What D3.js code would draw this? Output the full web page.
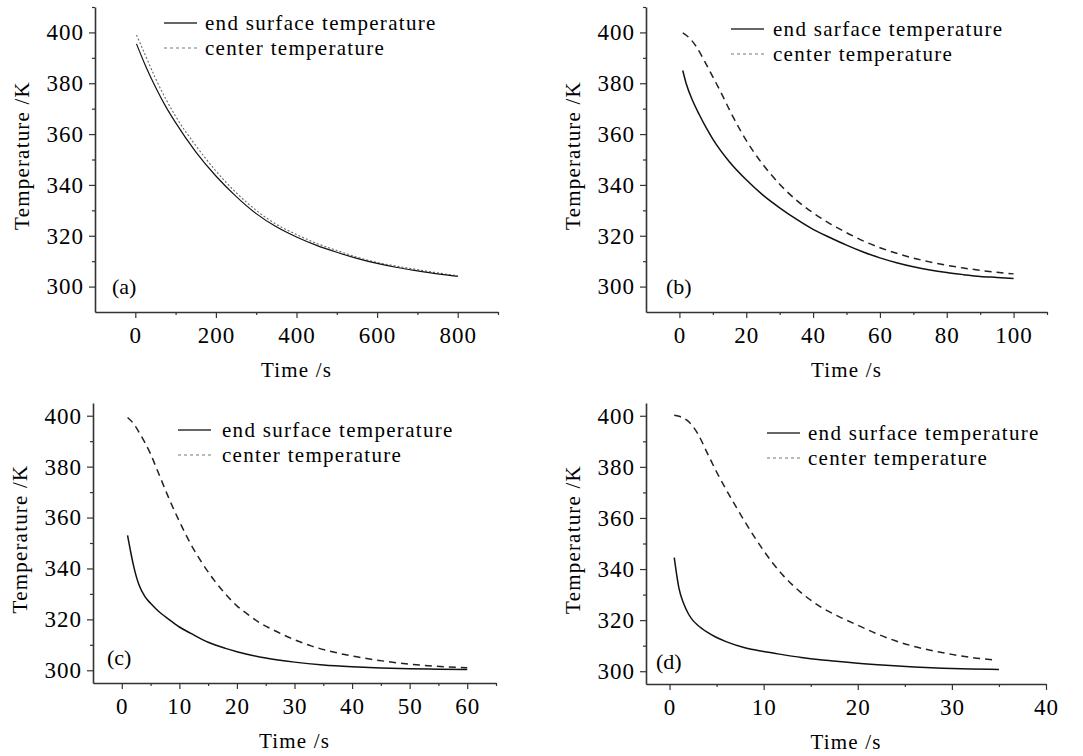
<!DOCTYPE html>
<html>
<head>
<meta charset="utf-8">
<script src="https://cdn.jsdelivr.net/npm/d3@7"></script>
<style>
  body { margin: 0; background: #fff; }
  svg { display: block; }
  text { font-family: "Liberation Serif", "Times New Roman", serif; fill: #000; }
</style>
</head>
<body>
<div id="chart"></div>
<script>
// ---- data ----
const panelNames = ["(a)", "(b)", "(c)", "(d)"];
const surfaceNames = ["end surface temperature", "end sarface temperature", "end surface temperature", "end surface temperature"];
const centerName = "center temperature";

const xDomains = [[-100, 900], [-10, 110], [-5, 65], [-2.5, 40]];
const yDomains = [[290, 410], [290, 410], [295, 405], [295, 405]];
const xMajor = [[0, 200, 400, 600, 800], [0, 20, 40, 60, 80, 100], [0, 10, 20, 30, 40, 50, 60], [0, 10, 20, 30, 40]];
const xMinor = [[100, 300, 500, 700, 900], [10, 30, 50, 70, 90, 110], [5, 15, 25, 35, 45, 55, 65], [5, 15, 25, 35]];
const yMajor = [300, 320, 340, 360, 380, 400];
const yMinor = [[310, 330, 350, 370, 390, 410], [310, 330, 350, 370, 390, 410], [310, 330, 350, 370, 390], [310, 330, 350, 370, 390]];

// (a) 800 s
const timeA = [3, 25, 50, 75, 100, 150, 200, 250, 300, 350, 400, 450, 500, 550, 600, 650, 700, 750, 800];
const surfaceA = [395.5, 387, 378.5, 371, 364.5, 353, 343.5, 335.5, 328.7, 323.5, 319.5, 316.2, 313.5, 311.1, 309.1, 307.5, 306.2, 305, 304];
const centerA = [399, 391, 382, 374, 367, 355.5, 345.5, 337, 330, 324.5, 320.5, 317, 314.2, 311.6, 309.5, 308, 306.7, 305.4, 304.3];

// (b) 100 s
const timeBs = [1, 2, 4, 6, 8, 10, 15, 20, 25, 30, 35, 40, 45, 50, 55, 60, 65, 70, 75, 80, 85, 90, 95, 100];
const surfaceB = [385, 380, 373, 367.5, 362.5, 358, 349, 342, 336, 331, 326.5, 322.5, 319.3, 316.3, 313.6, 311.3, 309.4, 307.8, 306.5, 305.5, 304.7, 304, 303.6, 303.2];
const timeBc = [1, 3, 5, 8, 10, 12, 15, 18, 20, 25, 30, 35, 40, 45, 50, 55, 60, 65, 70, 75, 80, 85, 90, 95, 100];
const centerB = [399.8, 397.8, 394.5, 387.5, 382.5, 377.5, 369.5, 362, 357.5, 348, 340.3, 334, 329, 324.8, 321.2, 318, 315.3, 313.1, 311.2, 309.7, 308.4, 307.3, 306.4, 305.6, 305];

// (c) 60 s
const timeCs = [1, 1.5, 2, 2.5, 3, 4, 5, 6, 7, 8, 10, 12, 15, 18, 20, 25, 30, 35, 40, 45, 50, 55, 60];
const surfaceC = [353, 347, 341.5, 337, 333.5, 329, 326.3, 324, 322, 320.3, 317, 314.5, 311, 308.6, 307.3, 304.8, 303.2, 302.1, 301.4, 300.9, 300.6, 300.4, 300.3];
const timeCc = [1, 2, 3, 4, 5, 6, 7, 8, 10, 12, 14, 16, 18, 20, 22, 24, 26, 28, 30, 33, 36, 40, 44, 48, 52, 56, 60];
const centerC = [399.3, 397, 393.5, 389.5, 385, 379.5, 374, 368.5, 358.5, 349.5, 342, 335.5, 330, 325.3, 321.8, 318.6, 316.2, 314, 312, 309.5, 307.6, 305.6, 304.1, 302.9, 302, 301.4, 301];

// (d) 35 s
const timeDs = [0.5, 0.75, 1, 1.5, 2, 2.5, 3, 4, 5, 6, 8, 10, 12, 14, 16, 18, 20, 23, 26, 29, 32, 35];
const surfaceD = [344.5, 338, 332.5, 326.5, 322.5, 319.8, 318, 315.3, 313.2, 311.6, 309.2, 307.7, 306.5, 305.4, 304.5, 303.8, 303.1, 302.3, 301.7, 301.2, 300.9, 300.7];
const timeDc = [0.5, 1, 2, 2.5, 3, 4, 5, 6, 7, 8, 9, 10, 11, 12, 13, 14, 16, 18, 20, 22, 24, 26, 28, 30, 32, 34.7];
const centerD = [400.2, 399.8, 397.8, 395.8, 393, 385.5, 378, 371.2, 364.8, 358.6, 352.7, 347.2, 342.2, 337.8, 334, 330.7, 325.3, 321.4, 318, 314.7, 311.9, 309.7, 308, 306.6, 305.4, 304.4];

const surfaceTimes = [timeA, timeBs, timeCs, timeDs];
const surfaceTemps = [surfaceA, surfaceB, surfaceC, surfaceD];
const centerTimes = [timeA, timeBc, timeCc, timeDc];
const centerTemps = [centerA, centerB, centerC, centerD];

// ---- layout (pixel boxes of each plot area) ----
const boxes = [
  {left: 95,  top: 7,   right: 498,  bottom: 312, leg: [69, 110, 16, 41], lab: [17, 279]},
  {left: 646, top: 7,   right: 1047, bottom: 312, leg: [85, 127, 22, 47], lab: [20, 279]},
  {left: 93,  top: 403, right: 496,  bottom: 683, leg: [85, 129, 27, 52], lab: [14, 254]},
  {left: 646, top: 403, right: 1046, bottom: 684, leg: [121, 162, 30, 55], lab: [10, 258]}
];
const centerDash = ["2,2", "7,5", "7,5", "7,5"];
const centerColor = ["#666", "#222", "#222", "#222"];

const svg = d3.select("#chart")
  .append("svg")
  .attr("width", 1083)
  .attr("height", 756);

boxes.forEach(function (b, i) {
  const w = b.right - b.left, h = b.bottom - b.top;
  const g = svg.append("g").attr("transform", `translate(${b.left},${b.top})`);

  const x = d3.scaleLinear().domain(xDomains[i]).range([0, w]);
  const y = d3.scaleLinear().domain(yDomains[i]).range([h, 0]);

  // minor ticks
  g.append("g")
    .attr("transform", `translate(0,${h})`)
    .call(d3.axisBottom(x).tickValues(xMinor[i]).tickSize(3).tickFormat(""))
    .call(a => a.select(".domain").remove());
  g.append("g")
    .call(d3.axisLeft(y).tickValues(yMinor[i]).tickSize(3).tickFormat(""))
    .call(a => a.select(".domain").remove());

  // X axis
  g.append("g")
    .attr("transform", `translate(0,${h})`)
    .call(d3.axisBottom(x).tickValues(xMajor[i]).tickSize(6).tickSizeOuter(0).tickPadding(9));
  // Y axis
  g.append("g")
    .call(d3.axisLeft(y).tickValues(yMajor).tickSize(6).tickSizeOuter(0).tickPadding(5));

  g.selectAll(".tick line").attr("stroke", "#333").attr("stroke-width", 1.2);
  g.selectAll(".domain").attr("stroke", "#333").attr("stroke-width", 1.6);
  g.selectAll(".tick text")
    .style("font-family", "Liberation Serif")
    .style("font-size", "23px")
    .style("letter-spacing", "1px")
    .attr("fill", "#000");

  // axis titles
  g.append("text")
    .attr("text-anchor", "middle")
    .attr("x", w / 2)
    .attr("y", h + 65)
    .style("font-size", "21px")
    .style("letter-spacing", "1.2px")
    .text("Time /s");

  g.append("text")
    .attr("text-anchor", "middle")
    .attr("transform", "rotate(-90)")
    .attr("x", -(h / 2 - 4))
    .attr("y", -73)
    .attr("dy", "0.35em")
    .style("font-size", "21px")
    .style("letter-spacing", "1.2px")
    .text("Temperature /K");

  // curves
  const line = d3.line()
    .x(d => x(d[0]))
    .y(d => y(d[1]))
    .curve(d3.curveMonotoneX);

  g.append("path")
    .datum(centerTimes[i].map((t, k) => [t, centerTemps[i][k]]))
    .attr("fill", "none")
    .attr("stroke", centerColor[i])
    .attr("stroke-width", i === 0 ? 1.1 : 1.5)
    .attr("stroke-dasharray", centerDash[i])
    .attr("d", line);

  g.append("path")
    .datum(surfaceTimes[i].map((t, k) => [t, surfaceTemps[i][k]]))
    .attr("fill", "none")
    .attr("stroke", "#111")
    .attr("stroke-width", i === 0 ? 1.2 : 1.5)
    .attr("d", line);

  // legend
  const lg = g.append("g").attr("class", "legend");
  lg.append("line")
    .attr("x1", b.leg[0]).attr("x2", b.leg[0] + 33)
    .attr("y1", b.leg[2]).attr("y2", b.leg[2])
    .attr("stroke", "#333").attr("stroke-width", 1.3);
  lg.append("line")
    .attr("x1", b.leg[0]).attr("x2", b.leg[0] + 33)
    .attr("y1", b.leg[3]).attr("y2", b.leg[3])
    .attr("stroke", "#777").attr("stroke-width", 1.1)
    .attr("stroke-dasharray", "3,3");
  lg.append("text")
    .attr("x", b.leg[1]).attr("y", b.leg[2]).attr("dy", "0.33em")
    .style("font-size", "21px").style("letter-spacing", "1.3px")
    .text(surfaceNames[i]);
  lg.append("text")
    .attr("x", b.leg[1]).attr("y", b.leg[3]).attr("dy", "0.33em")
    .style("font-size", "21px").style("letter-spacing", "1.3px")
    .text(centerName);

  // panel label
  g.append("text")
    .attr("x", b.lab[0])
    .attr("y", b.lab[1])
    .attr("dy", "0.35em")
    .style("font-size", "22px")
    .text(panelNames[i]);
});
</script>
</body>
</html>
